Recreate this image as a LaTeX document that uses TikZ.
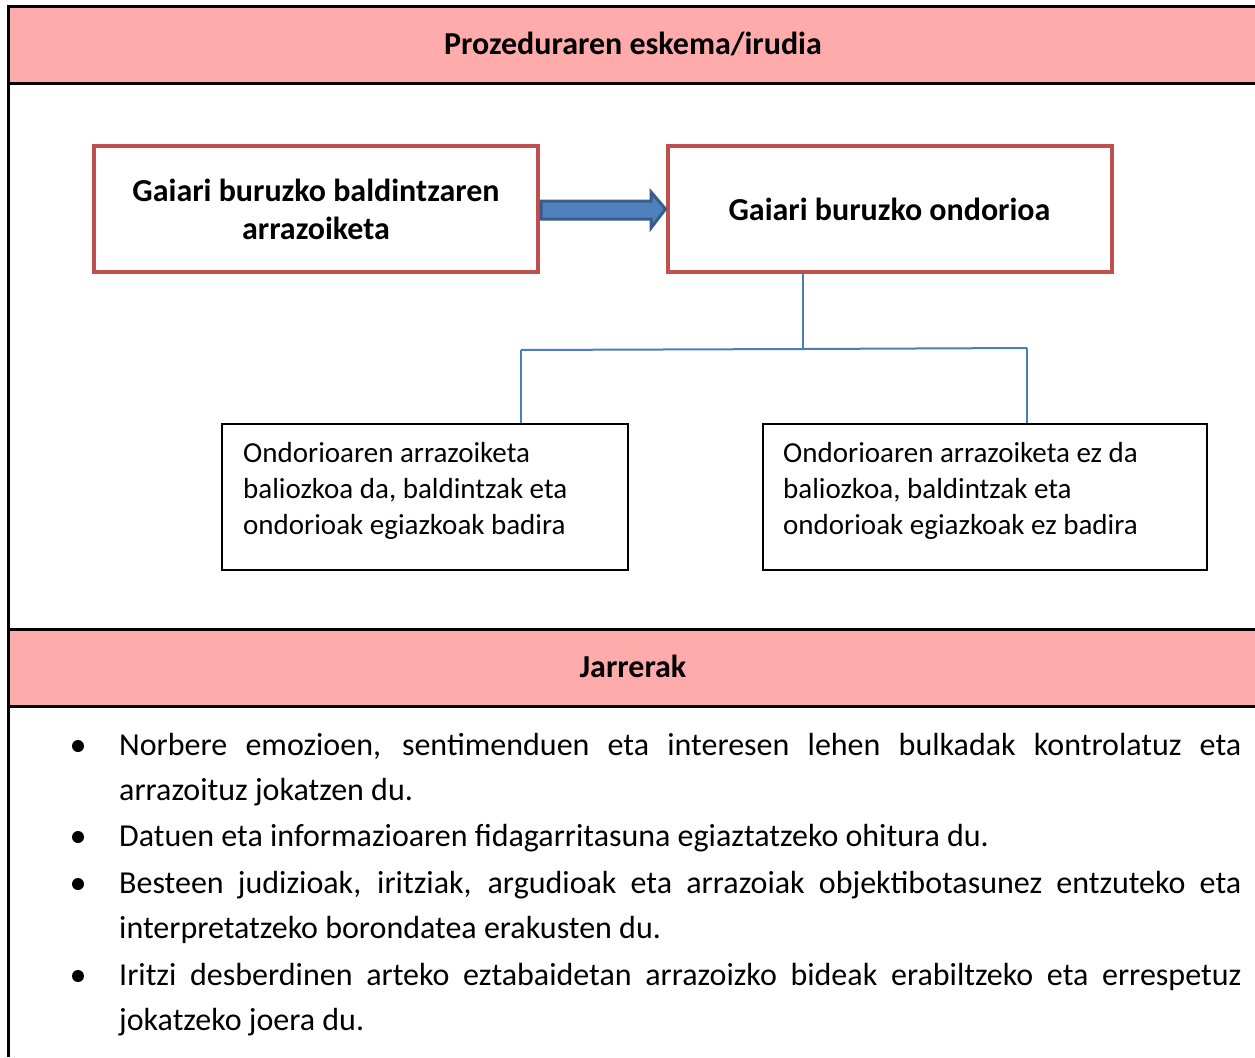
\documentclass[tikz,border=0pt]{standalone}
\usepackage{fontspec}
\setmainfont{Carlito}
\definecolor{hdrpink}{HTML}{FFABAB}
\definecolor{boxred}{HTML}{C0504D}
\definecolor{arrfill}{HTML}{4F81BD}
\definecolor{arrline}{HTML}{385D8A}
\definecolor{conn}{HTML}{4A7EBB}
\begin{document}
\begin{tikzpicture}[x=1pt,y=-1pt,
  redbox/.style={draw=boxred,line width=4pt,minimum width=444pt,minimum height=126pt,align=center,font=\fontsize{32}{38}\selectfont\bfseries,inner sep=0pt},
  txtbox/.style={draw=black,line width=1.3pt,minimum height=146pt,inner sep=0pt},
  boxtxt/.style={anchor=base west,align=left,inner sep=0pt,font=\fontsize{29}{36}\selectfont},
  connline/.style={draw=conn,line width=2pt},
  hdrtxt/.style={font=\fontsize{32}{36}\selectfont\bfseries},
  bodyline/.style={anchor=base west,inner sep=0pt,font=\fontsize{32}{36}\selectfont},
  bul/.style={circle,fill=black,inner sep=0pt,minimum size=12pt}]
\useasboundingbox (0,0) rectangle (1255,1057);
% header bands
\fill[hdrpink] (8,7) rectangle (1255,83);
\fill[hdrpink] (8,629) rectangle (1255,706);
\draw[line width=3pt] (1255,7) -- (8,7) -- (8,1057);
\draw[line width=3pt] (8,83) -- (1255,83);
\draw[line width=3pt] (8,629) -- (1255,629);
\draw[line width=3pt] (8,706) -- (1255,706);
\node[hdrtxt] (h1) at (633,44) {Prozeduraren eskema/irudia};
\node[hdrtxt] (h2) at (633,666) {Jarrerak};
% red boxes
\node[redbox] (lb) at (316,209) {Gaiari buruzko baldintzaren\\arrazoiketa};
\node[redbox] (rb) at (889.5,209) {Gaiari buruzko ondorioa};
% arrow
\filldraw[fill=arrfill,draw=arrline,line width=3pt,line join=miter]
  (541,201) -- (651,201) -- (651,192) -- (rb.west) -- (651,228) -- (651,219) -- (541,219) -- cycle;
% lower boxes
\node[txtbox,minimum width=406pt] (lx) at (425,497) {};
\node[txtbox,minimum width=444pt] (rx) at (985,497) {};
\node[boxtxt] (lxt) at (243,534) {Ondorioaren arrazoiketa\\baliozkoa da, baldintzak eta\\ondorioak egiazkoak badira};
\node[boxtxt] (rxt) at (783,534) {Ondorioaren arrazoiketa ez da\\baliozkoa, baldintzak eta\\ondorioak egiazkoak ez badira};
% connectors
\coordinate (jm) at (803,349);
\coordinate (jl) at (521,350);
\coordinate (jr) at (1027,348);
\draw[connline] (rb.south -| jm) -- (jm);
\draw[connline] (jl) -- (jm) -- (jr);
\draw[connline] (jl) -- (jl |- lx.north);
\draw[connline] (jr) -- (jr |- rx.north);
% bullets
\node[bul] (b1) at (78,746) {};
\node[bul] (b2) at (78,837) {};
\node[bul] (b3) at (78,884) {};
\node[bul] (b4) at (78,976) {};
\node[bodyline] (t1a) at (119,755) {\makebox[1122pt][s]{Norbere emozioen, sentimenduen eta interesen lehen bulkadak kontrolatuz eta}};
\node[bodyline] (t1b) at (119,800) {arrazoituz jokatzen du.};
\node[bodyline] (t2a) at (119,846) {Datuen eta informazioaren fidagarritasuna egiaztatzeko ohitura du.};
\node[bodyline] (t3a) at (119,893) {\makebox[1122pt][s]{Besteen judizioak, iritziak, argudioak eta arrazoiak objektibotasunez entzuteko eta}};
\node[bodyline] (t3b) at (119,938) {interpretatzeko borondatea erakusten du.};
\node[bodyline] (t4a) at (119,985) {\makebox[1122pt][s]{Iritzi desberdinen arteko eztabaidetan arrazoizko bideak erabiltzeko eta errespetuz}};
\node[bodyline] (t4b) at (119,1030) {jokatzeko joera du.};
\end{tikzpicture}
\end{document}
